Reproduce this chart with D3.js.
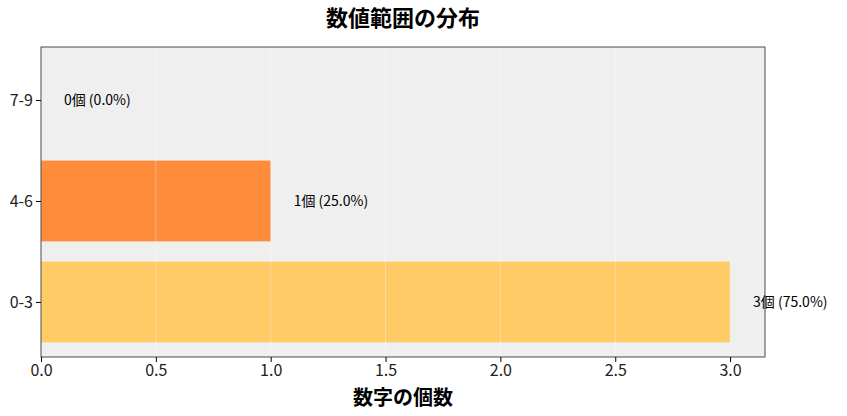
<!doctype html>
<html>
<head>
<meta charset="utf-8">
<style>
  body { margin: 0; background: #fff; }
  text { font-family: "Noto Sans CJK JP", "Noto Sans", sans-serif; }
</style>
</head>
<body>
<svg id="chart" width="847" height="416"></svg>
<script src="https://cdnjs.cloudflare.com/ajax/libs/d3/7.8.5/d3.min.js"></script>
<script>
  var categories = ['0-3', '4-6', '7-9'];
  var counts = [3, 1, 0];
  var percents = [75.0, 25.0, 0.0];
  var colors = ['#ffcb66', '#ff8c3a', '#ff5a2a'];
  var xTicks = [0, 0.5, 1, 1.5, 2, 2.5, 3];

  var svg = d3.select('#chart');
  var pL = 41, pR = 765, pT = 47, pB = 357;

  var x = d3.scaleLinear().domain([0, 3.152]).range([pL, pR]);
  var y = d3.scaleLinear().domain([-0.545, 2.525]).range([pB, pT]);

  svg.append('rect')
    .attr('x', pL).attr('y', pT)
    .attr('width', pR - pL).attr('height', pB - pT)
    .attr('fill', '#efefef');

  svg.selectAll('rect.bar')
    .data(counts)
    .enter().append('rect')
    .attr('class', 'bar')
    .attr('x', x(0))
    .attr('y', function(d, i) { return y(i + 0.4); })
    .attr('width', function(d) { return x(d) - x(0); })
    .attr('height', y(0) - y(0.8))
    .attr('fill', function(d, i) { return colors[i]; });

  // grid over bars, faint
  svg.selectAll('line.grid')
    .data(xTicks)
    .enter().append('line')
    .attr('x1', function(d) { return x(d); })
    .attr('x2', function(d) { return x(d); })
    .attr('y1', pT).attr('y2', pB)
    .attr('stroke', '#fff').attr('stroke-opacity', 0.35).attr('stroke-width', 1);

  svg.append('rect')
    .attr('x', pL).attr('y', pT)
    .attr('width', pR - pL).attr('height', pB - pT)
    .attr('fill', 'none').attr('stroke', '#222').attr('stroke-width', 0.8);

  svg.selectAll('text.val')
    .data(counts)
    .enter().append('text')
    .attr('x', function(d) { return x(d + 0.1); })
    .attr('y', function(d, i) { return y(i); })
    .attr('dy', '0.35em')
    .attr('font-size', 14)
    .text(function(d, i) { return d + '個 (' + percents[i].toFixed(1) + '%)'; });

  var xAxis = svg.append('g')
    .attr('transform', 'translate(0,' + pB + ')')
    .call(d3.axisBottom(x).tickValues(xTicks).tickFormat(d3.format('.1f')).tickSize(5));
  xAxis.select('.domain').remove();
  xAxis.selectAll('text').attr('font-size', 16).attr('fill', '#222')
    .style('font-family', '"Noto Sans CJK JP", sans-serif');

  var yAxis = svg.append('g')
    .attr('transform', 'translate(' + pL + ',0)')
    .call(d3.axisLeft(y).tickValues([0, 1, 2]).tickFormat(function(d) { return categories[d]; }).tickSize(5));
  yAxis.select('.domain').remove();
  yAxis.selectAll('text').attr('font-size', 16).attr('fill', '#222')
    .style('font-family', '"Noto Sans CJK JP", sans-serif');

  svg.append('text')
    .attr('x', 403).attr('y', 26)
    .attr('text-anchor', 'middle')
    .attr('font-size', 22).attr('font-weight', 'bold')
    .text('数値範囲の分布');

  svg.append('text')
    .attr('x', 403).attr('y', 405)
    .attr('text-anchor', 'middle')
    .attr('font-size', 20).attr('font-weight', 'bold')
    .text('数字の個数');
</script>
</body>
</html>
